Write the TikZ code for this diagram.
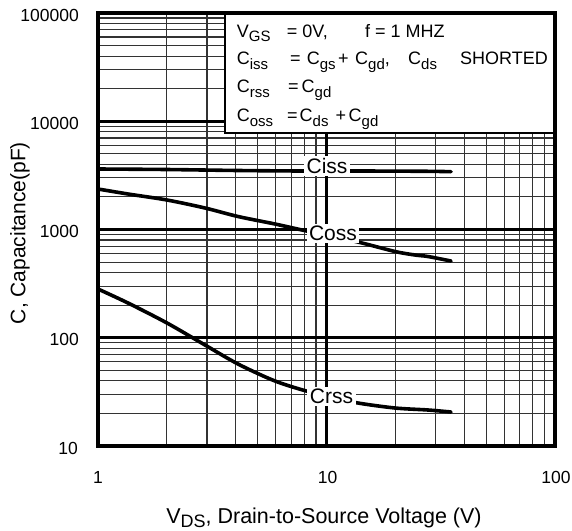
\documentclass[tikz,border=0pt]{standalone}
\usepackage{fontspec}
\setmainfont{Liberation Sans}
\newcommand\lowsub[2]{\raisebox{-4.5pt}{\fontsize{#1}{#1}\selectfont #2}}

\begin{document}
\begin{tikzpicture}[x=1pt, y=-1pt,
	minor/.style={line width=1.1pt, color=black!80},
	major/.style={line width=2.6pt},
	curve/.style={line width=3.6pt, line cap=round, line join=round},
	curvelabel/.style={fill=white, inner sep=2.5pt, font=\fontsize{21}{24}\selectfont},
	ticklabel/.style={inner sep=0pt, font=\fontsize{17.5}{20}\selectfont},
	legtext/.style={anchor=base west, inner sep=0pt, font=\fontsize{18}{21}\selectfont}]
			%%%%% START %%%%%
			
			\useasboundingbox (0, 0) rectangle (572, 530);
			
			\foreach \k in {2,...,9} {
				\draw[minor] ({98+228.5*log10(\k)}, 13) -- ({98+228.5*log10(\k)}, 446);
				\draw[minor] ({326.5+228.5*log10(\k)}, 13) -- ({326.5+228.5*log10(\k)}, 446);
				\foreach \dec in {0,...,3}
					\draw[minor] (98, {446-108.25*(\dec+log10(\k))}) -- (555, {446-108.25*(\dec+log10(\k))});
			}
			\draw[major] (326.5, 13) -- (326.5, 446);
			\foreach \yy in {121.25, 229.5, 337.75}
				\draw[major] (98, \yy) -- (555, \yy);
			
			\draw[curve] plot[smooth, tension=0.5] coordinates {(98, 169) (166, 169.5) (238, 170.5) (302, 171) (360, 171) (428, 171.3) (451, 171.7)};
			\draw[curve] plot[smooth, tension=0.5] coordinates {(98, 189) (128, 194) (167, 200) (205, 208) (238, 216.5) (275, 224) (302, 230) (330, 236) (360, 242.5) (395, 251.5) (415, 255) (428, 256.5) (451, 261)};
			\draw[curve] plot[smooth, tension=0.5] coordinates {(98, 289) (128, 303) (167, 323) (205, 345) (238, 364) (275, 381) (308, 391.5) (332, 397) (358, 403) (395, 408) (428, 410) (451, 412)};
			
			\node[curvelabel] (ciss) at (327, 166) {Ciss};
			\node[curvelabel] (coss) at (333, 233.5) {Coss};
			\node[curvelabel] (crss) at (331.5, 396.5) {Crss};
			
			\draw[fill=white, line width=1.5pt] (225, 13) rectangle (555, 133);
			\node[legtext] (leg1) at (236.7, 37) {\makebox[50pt][l]{V\lowsub{15}{GS}}\makebox[78.3pt][l]{= 0V,}f = 1 MHZ};
			\node[legtext] (leg2) at (236.7, 64.5) {\makebox[53.3pt][l]{C\lowsub{15}{iss}}\makebox[16.7pt][l]{=}\makebox[31.3pt][l]{C\lowsub{15}{gs}}\makebox[17pt][l]{+}\makebox[53pt][l]{C\lowsub{15}{gd},}\makebox[52pt][l]{C\lowsub{15}{ds}}SHORTED};
			\node[legtext] (leg3) at (236.7, 92.5) {\makebox[51.3pt][l]{C\lowsub{15}{rss}}\makebox[13.5pt][l]{=}C\lowsub{15}{gd}};
			\node[legtext] (leg4) at (236.7, 121.5) {\makebox[50.3pt][l]{C\lowsub{15}{oss}}\makebox[12.5pt][l]{=}\makebox[36pt][l]{C\lowsub{15}{ds}}\makebox[13pt][l]{+}C\lowsub{15}{gd}};
			
			\draw[line width=4pt] (98, 13) rectangle (555, 446);
			
			\node[ticklabel, anchor=east] (y5) at (79, 15) {100000};
			\node[ticklabel, anchor=east] (y4) at (79, 123.5) {10000};
			\node[ticklabel, anchor=east] (y3) at (79, 231.5) {1000};
			\node[ticklabel, anchor=east] (y2) at (79, 339.5) {100};
			\node[ticklabel, anchor=east] (y1) at (78, 448) {10};
			
			\node[ticklabel] (x0) at (98, 477.5) {1};
			\node[ticklabel] (x1) at (327.5, 477.5) {10};
			\node[ticklabel] (x2) at (556, 477.5) {100};
			
			\node[rotate=90, font=\fontsize{21}{24}\selectfont] (ylab) at (20, 233) {C, Capacitance(pF)};
			\node[anchor=base, inner sep=0pt, font=\fontsize{21.5}{24}\selectfont] (xlab) at (324, 523) {V\lowsub{18}{DS}, Drain-to-Source Voltage (V)};
			
			%%%%% END %%%%%
\end{tikzpicture}
\end{document}
